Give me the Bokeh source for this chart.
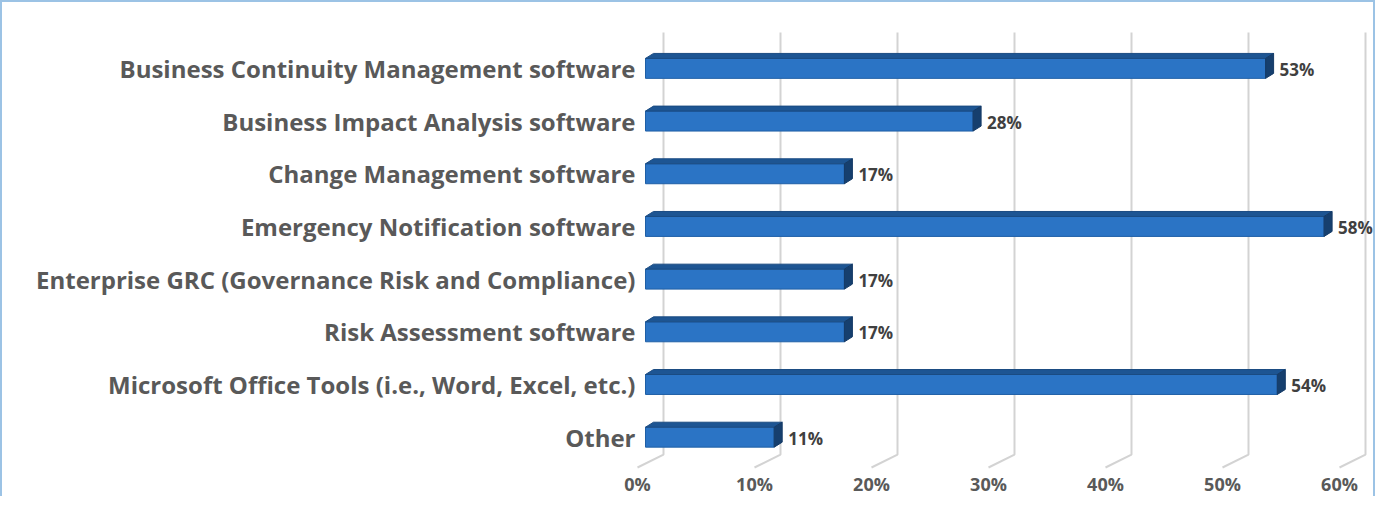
from bokeh.plotting import figure
from bokeh.models import Range1d, FixedTicker, ColumnDataSource
from bokeh.embed import file_html
from bokeh.resources import INLINE
from bokeh.core.properties import value

# ---------------- data ----------------
categories = [
    "Business Continuity Management software",
    "Business Impact Analysis software",
    "Change Management software",
    "Emergency Notification software",
    "Enterprise GRC (Governance Risk and Compliance)",
    "Risk Assessment software",
    "Microsoft Office Tools (i.e., Word, Excel, etc.)",
    "Other",
]
values = [53, 28, 17, 58, 17, 17, 54, 11]
value_labels = ["53%", "28%", "17%", "58%", "17%", "17%", "54%", "11%"]
x_ticks = [0, 10, 20, 30, 40, 50, 60]
x_tick_labels = ["0%", "10%", "20%", "30%", "40%", "50%", "60%"]

# ---------------- geometry (pixel -> data helpers) ----------------
PX_X = 11.7     # pixels per percent
PX_Y = 52.8     # pixels per category row
OX, OY = 2, 2   # canvas origin (inside the 2px border)
W, H = 1375, 496

def dx(px):
    return px / PX_X

def dy(px):
    return px / PX_Y

X0 = 637   # x of value 0 (front floor)
Y0 = 68    # y of first row centre

frame_left, frame_right, frame_top, frame_bottom = 636, OX + W, 20, 470
x_start = (frame_left - X0) / PX_X
x_end = (frame_right - X0) / PX_X
y_top = (frame_top - Y0) / PX_Y
y_bot = (frame_bottom - Y0) / PX_Y

p = figure(
    width=W, height=H,
    x_range=Range1d(x_start, x_end),
    y_range=Range1d(y_bot, y_top),
    output_backend="svg", toolbar_location=None,
    min_border_left=frame_left - OX,
    min_border_right=OX + W - frame_right,
    min_border_top=frame_top - OY,
    min_border_bottom=OY + H - frame_bottom,
)
p.styles = {
    "border-top": "2px solid #9cc3e5",
    "border-left": "2px solid #9cc3e5",
    "border-right": "2px solid #9cc3e5",
}
p.outline_line_color = None
p.background_fill_color = "white"
p.border_fill_color = "white"
p.xgrid.visible = False
p.ygrid.visible = False

rows = list(range(len(categories)))

# ---------------- 3D gridlines ----------------
grid_back = dx(26)
g_top = (32 - Y0) / PX_Y
g_back_bot = (455 - Y0) / PX_Y
g_front_bot = (468 - Y0) / PX_Y
gxs = [[t + grid_back, t + grid_back, t] for t in x_ticks]
gys = [[g_top, g_back_bot, g_front_bot] for _ in x_ticks]
p.multi_line(gxs, gys, line_color="#d3d3d3", line_width=2)

# ---------------- 3D bars ----------------
bar_x0 = dx(8)
half = dy(10)
ddx, ddy = dx(8), dy(5)

front_l = [bar_x0] * len(values)
front_r = [bar_x0 + v for v in values]
p.quad(left=front_l, right=front_r, top=[r - half for r in rows],
       bottom=[r + half for r in rows],
       fill_color="#2b74c5", line_color="#1f5fa6", line_width=1)

top_xs, top_ys, side_xs, side_ys = [], [], [], []
for r, v in zip(rows, values):
    yt = r - half
    yb = r + half
    xr = bar_x0 + v
    top_xs.append([bar_x0, xr, xr + ddx, bar_x0 + ddx])
    top_ys.append([yt, yt, yt - ddy, yt - ddy])
    side_xs.append([xr, xr + ddx, xr + ddx, xr])
    side_ys.append([yt, yt - ddy, yb - ddy, yb])
p.patches(top_xs, top_ys, fill_color="#1d5593", line_color="#1a4b82", line_width=1)
p.patches(side_xs, side_ys, fill_color="#163f6e", line_color="#143a66", line_width=1)

# ---------------- value labels ----------------
lab_src = ColumnDataSource(dict(
    x=[bar_x0 + v + dx(14) for v in values],
    y=[r + dy(1) for r in rows],
    t=value_labels,
))
p.text(x="x", y="y", text="t", source=lab_src, text_align="left",
       text_baseline="middle", text_font=value("Open Sans"),
       text_font_size="17px", text_font_style="bold", text_color="#404040")

# ---------------- axes ----------------
p.yaxis.ticker = FixedTicker(ticks=rows)
p.yaxis.major_label_overrides = {r: c for r, c in zip(rows, categories)}
p.yaxis.major_label_text_font = "Open Sans"
p.yaxis.major_label_text_font_style = "bold"
p.yaxis.major_label_text_font_size = "24px"
p.yaxis.major_label_text_color = "#595959"
p.yaxis.major_label_standoff = 1
p.yaxis.axis_line_color = None
p.yaxis.major_tick_line_color = None
p.yaxis.minor_tick_line_color = None
p.yaxis.major_tick_out = 0

p.xaxis.ticker = FixedTicker(ticks=x_ticks)
p.xaxis.major_label_overrides = {t: l for t, l in zip(x_ticks, x_tick_labels)}
p.xaxis.major_label_text_font = "Open Sans"
p.xaxis.major_label_text_font_style = "bold"
p.xaxis.major_label_text_font_size = "18px"
p.xaxis.major_label_text_color = "#595959"
p.xaxis.major_label_standoff = 2
p.xaxis.axis_line_color = None
p.xaxis.major_tick_line_color = None
p.xaxis.minor_tick_line_color = None
p.xaxis.major_tick_out = 0

open("out.html", "w").write(file_html(p, INLINE))
